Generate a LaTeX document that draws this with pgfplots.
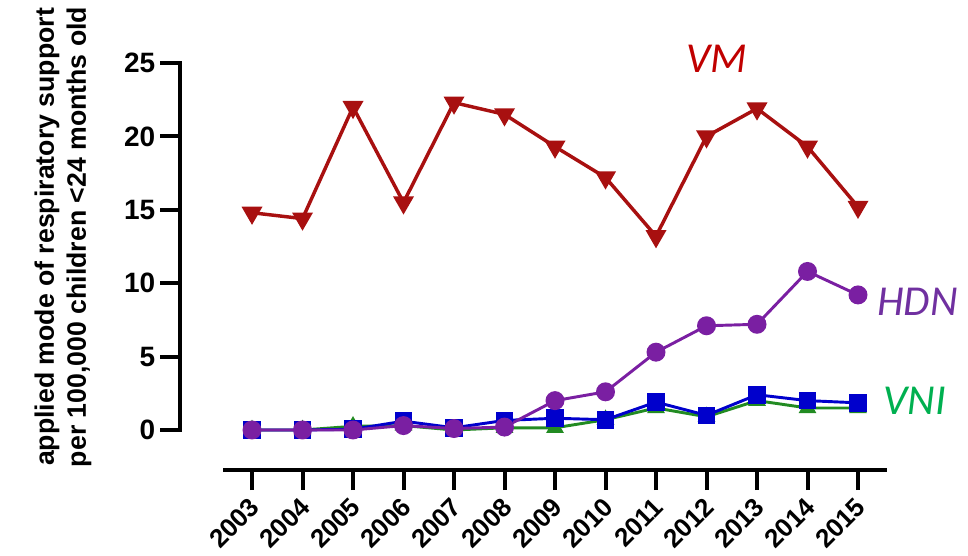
\documentclass[border=0pt]{standalone}
\usepackage{pgfplots}
\pgfplotsset{compat=1.18}
\usepackage{fontspec}
\setmainfont{Liberation Sans}
\newfontfamily\calibri{Carlito}
\definecolor{vmline}{RGB}{168,16,16}
\definecolor{vmtext}{RGB}{192,0,0}
\definecolor{hdnline}{RGB}{122,31,162}
\definecolor{hdntext}{RGB}{112,48,160}
\definecolor{vniblue}{RGB}{0,0,204}
\definecolor{vniline}{RGB}{34,139,34}
\definecolor{vnitext}{RGB}{0,176,80}
\pgfplotstableread{
year VM HDN BLUE GREEN
2003 14.8 0.0 0.0 0.0
2004 14.4 0.0 0.0 0.0
2005 22.0 0.0 0.05 0.25
2006 15.5 0.3 0.6 0.3
2007 22.3 0.1 0.15 0.0
2008 21.5 0.2 0.65 0.15
2009 19.3 2.0 0.8 0.15
2010 17.2 2.6 0.7 0.7
2011 13.2 5.3 1.9 1.5
2012 20.0 7.1 1.0 0.9
2013 21.9 7.2 2.4 2.0
2014 19.3 10.8 2.0 1.5
2015 15.2 9.2 1.85 1.5
}\datatable
\begin{document}
\begin{tikzpicture}
\begin{axis}[
  at={(0,0)}, anchor=south west,
  scale only axis, width=530.25pt, height=305.25pt,
  xmin=2001.574, xmax=2015.574, ymin=-2.725, ymax=25,
  axis x line*=bottom, axis y line*=left,
  axis line style={draw=none},
  tick align=outside, major tick length=15pt,
  tick style={line width=3pt, black},
  xtick={2003,2004,2005,2006,2007,2008,2009,2010,2011,2012,2013,2014,2015},
  xticklabels={2003,2004,2005,2006,2007,2008,2009,2010,2011,2012,2013,2014,2015},
  ytick={0,5,10,15,20,25},
  yticklabels={0,5,10,15,20,25},
  tick label style={font=\fontsize{21}{25}\selectfont\bfseries},
  xticklabel style={font=\fontsize{19.5}{23}\selectfont\bfseries, xshift=4.5pt, yshift=-7pt, rotate=45, anchor=east},
  ylabel={applied mode of respiratory support\\per 100,000 children <24 months old},
  ylabel style={at={(axis description cs:-0.1655,0.5725)}, anchor=center, align=center,
    font=\fontsize{20}{24}\selectfont\bfseries},
  clip=false,
]
\draw[line width=3pt] (axis cs:2002.426,-2.725) -- (axis cs:2015.574,-2.725);
\draw[line width=3pt, line cap=rect] (axis cs:2001.574,0) -- (axis cs:2001.574,25);
\addplot[vniline, line width=2.2pt, mark=triangle*, mark size=5.5pt, mark options={solid, fill=vniline}] table[x=year, y=GREEN] {\datatable};
\addplot[vniblue, line width=2.2pt, mark=square*, mark size=5.5pt, mark options={solid, fill=vniblue}] table[x=year, y=BLUE] {\datatable};
\addplot[hdnline, line width=2.2pt, mark=*, mark size=6pt, mark options={solid, fill=hdnline}] table[x=year, y=HDN] {\datatable};
\addplot[vmline, line width=2.6pt, mark=triangle*, mark size=6.5pt, mark options={solid, fill=vmline, rotate=180}] table[x=year, y=VM] {\datatable};
\node[font=\fontsize{32}{36}\selectfont\calibri\itshape, text=vmtext] at (axis cs:2012.21,25.27) {VM};
\node[font=\fontsize{32}{36}\selectfont\calibri\itshape, text=hdntext, anchor=west, inner sep=0pt] at (axis cs:2015.376,8.72) {HDN};
\node[font=\fontsize{32}{36}\selectfont\calibri\itshape, text=vnitext, anchor=west, inner sep=0pt] at (axis cs:2015.5,1.98) {VNI};
\end{axis}
\pgfresetboundingbox
\path[use as bounding box] (-135pt,-64.5pt) rectangle (591pt,352.5pt);
\end{tikzpicture}
\end{document}
